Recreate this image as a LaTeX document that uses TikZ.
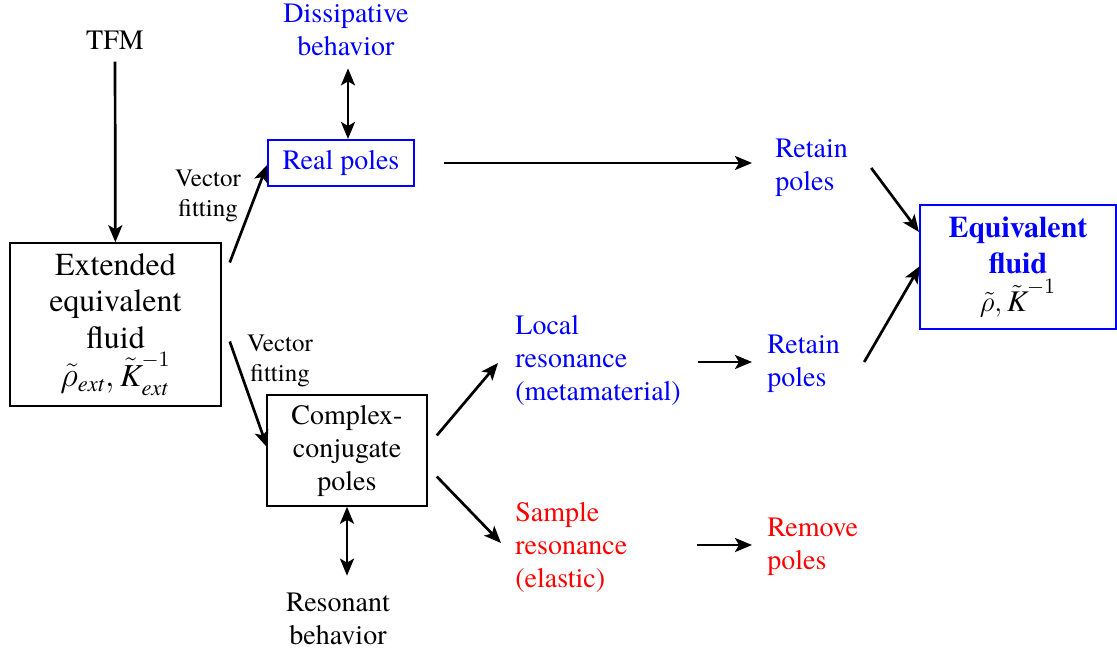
\documentclass[tikz,border=0pt]{standalone}
\usepackage{amsmath}
\usepackage{fontspec}
\setmainfont{TeX Gyre Termes}
\usetikzlibrary{calc, arrows.meta}
\definecolor{poleblue}{RGB}{0,0,255}
\definecolor{polered}{RGB}{255,0,0}

\begin{document}
\begin{tikzpicture}[x=0.5pt, y=-0.5pt,
    txt/.style={inner sep=0pt, font=\fontsize{14}{16.5}\selectfont},
    small/.style={inner sep=0pt, align=center, font=\fontsize{12.5}{15}\selectfont},
    blk/.style={draw, line width=0.75pt, align=center},
    bluebox/.style={draw=poleblue, line width=1pt, align=center},
    tip/.tip={Stealth[length=8.5pt, width=7pt, inset=2pt]},
    arr/.style={line width=1.35pt, -tip},
    dbl/.style={line width=1.35pt, tip-tip}]

        % page of the same size as the reference
        \useasboundingbox (0,0) rectangle (1117,651);

        % the boxes
        \node[blk, inner sep=0pt, minimum width=105.5pt, minimum height=81.5pt,
              font=\fontsize{16}{18.25}\selectfont] (ext) at (115.5,324.5)
              {Extended\\equivalent\\fluid\\[1pt]$\tilde{\rho}_{\text{\itshape ext}},\tilde{\text{\itshape K}}^{-1}_{\text{\itshape ext}}$};
        \node[bluebox, txt, text=poleblue, minimum width=73pt, minimum height=23pt] (real) at (341,163) {\raisebox{-1pt}{Real poles}};
        \node[blk, txt, minimum width=80pt, minimum height=55.5pt] (cplx) at (347,450.5) {Complex-\\conjugate\\poles};
        \node[bluebox, inner sep=0pt, minimum width=98pt, minimum height=62pt,
              font=\fontsize{15}{18}\selectfont\bfseries, text=poleblue] (eq) at (1018,267)
              {Equivalent\\fluid\\[1pt]{\mdseries\color{black}$\tilde{\rho},\tilde{\text{\itshape K}}^{-1}$}};

        % the plain texts
        \node[txt] (tfm) at (115,40) {TFM};
        \node[txt, align=center, text=poleblue] (diss) at (346,30) {Dissipative\\behavior};
        \node[txt, align=center] (res) at (338,619) {Resonant\\behavior};
        \node[txt, align=left, text=poleblue, anchor=west] (ret1) at (775,168) {Retain\\poles};
        \node[txt, align=left, text=poleblue, anchor=west] (local) at (515,360) {Local\\resonance\\(metamaterial)};
        \node[txt, align=left, text=poleblue, anchor=west] (ret2) at (767,364) {Retain\\poles};
        \node[txt, align=left, text=polered, anchor=west] (sample) at (515,547) {Sample\\resonance\\(elastic)};
        \node[txt, align=left, text=polered, anchor=west] (remove) at (767,547) {Remove\\poles};
        \node[small] (fit1) at (208,196) {Vector\\fitting};
        \node[small] (fit2) at (280,361) {Vector\\fitting};

        % the arrows
        \draw[arr, shorten <=6pt] (tfm) -- (ext);
        \draw[arr] ($(ext.east)+(8,-62)$) -- ($(real.west)+(0,2)$);
        \draw[arr] ($(ext.east)+(8,17)$) -- ($(cplx.west)+(1,-3)$);
        \draw[dbl] ($(real.north)+(7,0)$) -- ($(diss.south)+(2,12)$);
        \draw[dbl, shorten >=8.5pt] (cplx.south) -- (cplx.south |- res.north);
        \draw[arr] ($(real.east)+(29,0)$) -- ($(ret1.west)+(-23,-5)$);
        \draw[arr] ($(ret1.east)+(23,0)$) -- ($(eq.north west)+(0,28)$);
        \draw[arr] ($(ret2.east)+(24,-2)$) -- ($(eq.south west)+(1,-64)$);
        \draw[arr] ($(cplx.east)+(9,-15)$) -- ($(local.west)+(-17,3)$);
        \draw[arr] ($(cplx.east)+(9,26)$) -- ($(sample.west)+(-14,-4)$);
        \draw[arr] ($(local.east)+(17,2)$) -- ($(ret2.west)+(-15,-2)$);
        \draw[arr] ($(sample.west)+(182,-2)$) -- ($(remove.west)+(-15,-2)$);

\end{tikzpicture}
\end{document}
